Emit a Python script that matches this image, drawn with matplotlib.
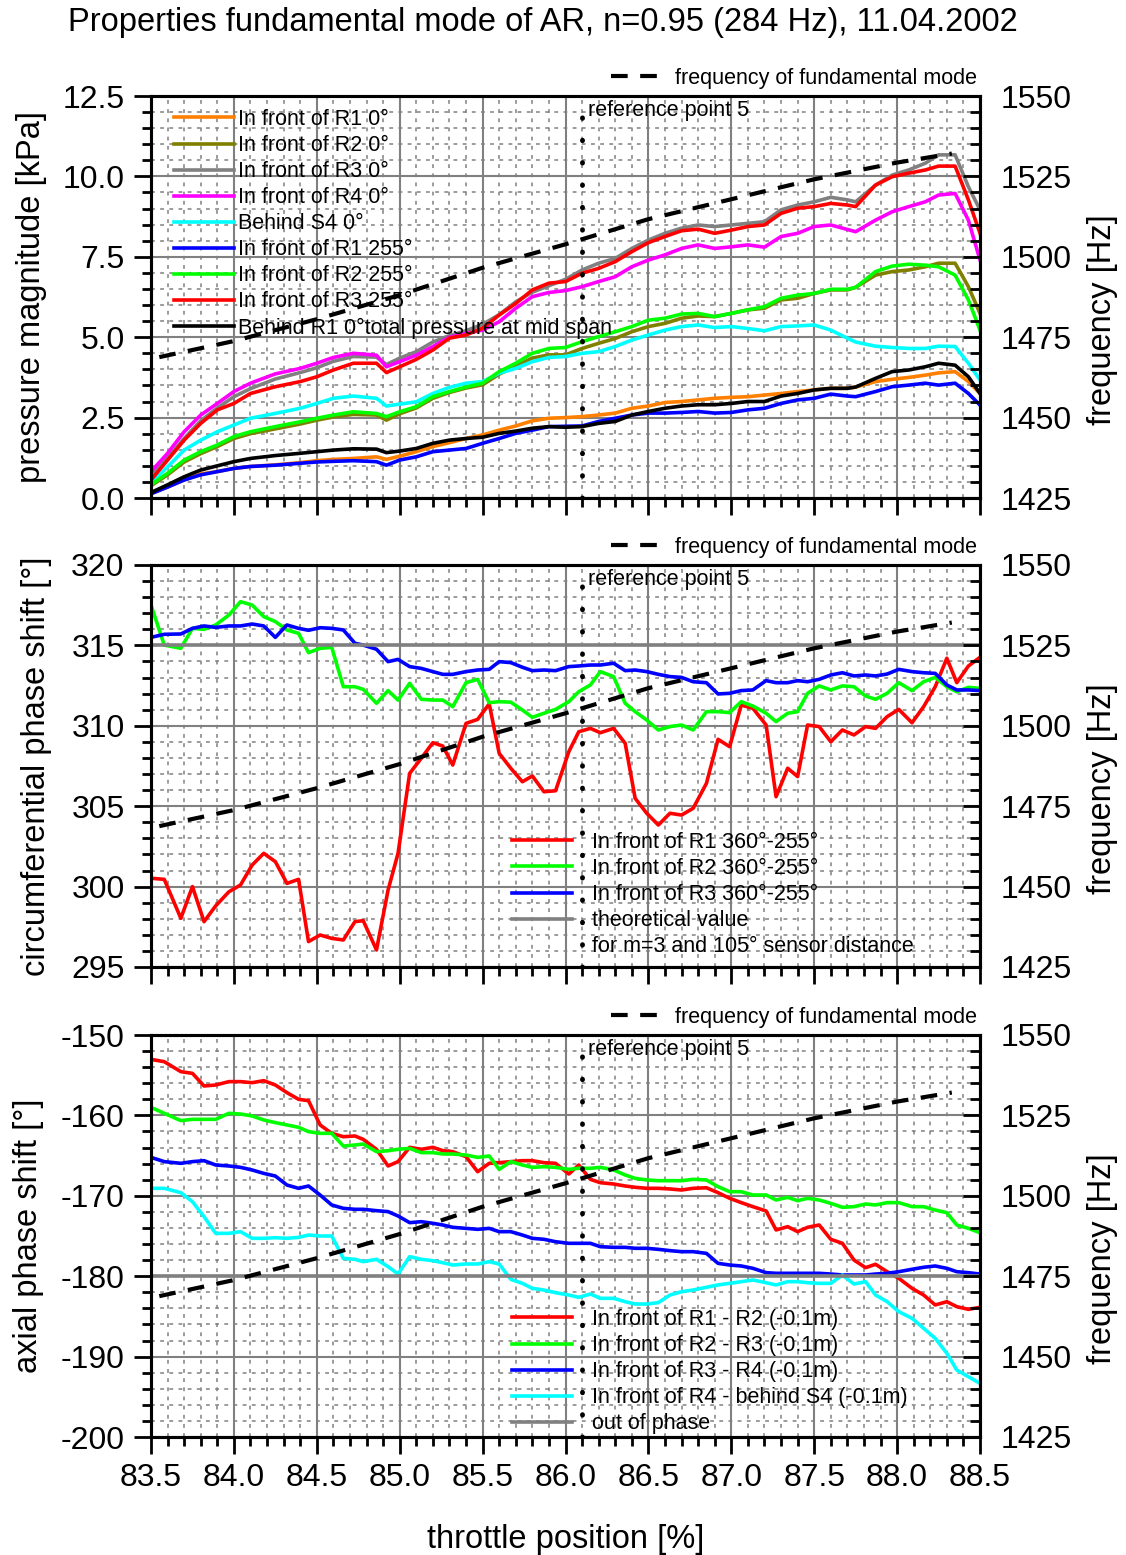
import matplotlib
matplotlib.use('Agg')
import matplotlib.pyplot as plt
from matplotlib.ticker import MultipleLocator, FormatStrFormatter

plt.rcParams['font.family'] = ['Liberation Sans', 'DejaVu Sans']
plt.rcParams['axes.unicode_minus'] = False

# ---- data ----
ref_x = 86.1

freq_x = [83.55, 84.0, 84.5, 85.0, 85.5, 86.0, 86.5, 87.0, 87.5, 88.0, 88.33]
freq_hz = [1468.8, 1473.8, 1480.6, 1488.1, 1496.6, 1503.9, 1511.7, 1517.9, 1524.1, 1529.3, 1532.1]

# pressure magnitude [kPa]
x_top = [83.5, 83.6, 83.7, 83.8, 83.9, 84.0, 84.1, 84.25, 84.4, 84.5, 84.6, 84.72, 84.86, 84.92,
         85.0, 85.1, 85.2, 85.3, 85.4, 85.5, 85.6, 85.7, 85.8, 85.9, 86.0, 86.1, 86.2, 86.3, 86.4,
         86.5, 86.6, 86.7, 86.8, 86.9, 87.0, 87.1, 87.2, 87.3, 87.4, 87.5, 87.6, 87.7, 87.75, 87.87,
         87.97, 88.07, 88.17, 88.25, 88.35, 88.43, 88.5]
p_r1_0 = [0.15, 0.34, 0.56, 0.75, 0.82, 0.92, 0.98, 1.03, 1.10, 1.16, 1.20, 1.23, 1.28, 1.20,
          1.30, 1.44, 1.60, 1.72, 1.85, 1.96, 2.11, 2.24, 2.40, 2.48, 2.50, 2.53, 2.58, 2.64, 2.79,
          2.86, 2.97, 3.00, 3.05, 3.10, 3.13, 3.15, 3.20, 3.25, 3.31, 3.36, 3.41, 3.41, 3.45, 3.62,
          3.69, 3.75, 3.82, 3.89, 3.93, 3.62, 3.25]
p_r2_0 = [0.38, 0.72, 1.12, 1.38, 1.60, 1.85, 2.00, 2.15, 2.30, 2.42, 2.52, 2.60, 2.58, 2.42,
          2.62, 2.80, 3.10, 3.28, 3.42, 3.52, 3.85, 4.10, 4.35, 4.45, 4.45, 4.65, 4.81, 4.96, 5.17,
          5.33, 5.43, 5.59, 5.66, 5.64, 5.74, 5.85, 5.90, 6.16, 6.21, 6.36, 6.47, 6.47, 6.55, 6.93,
          7.04, 7.09, 7.19, 7.30, 7.30, 6.57, 5.74]
p_r3_0 = [0.70, 1.25, 1.85, 2.40, 2.80, 3.15, 3.40, 3.70, 3.90, 4.05, 4.25, 4.40, 4.38, 4.15,
          4.35, 4.55, 4.85, 5.05, 5.20, 5.40, 5.70, 6.10, 6.40, 6.60, 6.80, 7.09, 7.30, 7.45, 7.76,
          8.02, 8.23, 8.39, 8.49, 8.44, 8.49, 8.54, 8.59, 8.96, 9.11, 9.21, 9.35, 9.27, 9.21, 9.73,
          10.04, 10.20, 10.41, 10.67, 10.67, 9.68, 8.96]
p_r4_0 = [0.82, 1.39, 2.06, 2.58, 2.94, 3.31, 3.57, 3.86, 4.03, 4.19, 4.37, 4.50, 4.44, 4.08,
          4.24, 4.44, 4.71, 5.00, 5.12, 5.22, 5.48, 5.90, 6.26, 6.39, 6.45, 6.57, 6.73, 6.88, 7.19,
          7.40, 7.56, 7.76, 7.87, 7.76, 7.81, 7.87, 7.80, 8.13, 8.23, 8.44, 8.49, 8.35, 8.28, 8.64,
          8.90, 9.06, 9.21, 9.42, 9.47, 8.64, 7.40]
p_s4_0 = [0.46, 0.97, 1.49, 1.80, 2.06, 2.27, 2.48, 2.63, 2.79, 2.94, 3.10, 3.17, 3.10, 2.86,
          2.92, 2.99, 3.25, 3.44, 3.57, 3.62, 3.88, 4.03, 4.24, 4.37, 4.40, 4.50, 4.55, 4.71, 4.91,
          5.07, 5.22, 5.33, 5.38, 5.30, 5.33, 5.27, 5.20, 5.33, 5.35, 5.38, 5.22, 4.97, 4.85, 4.72,
          4.68, 4.65, 4.65, 4.72, 4.71, 4.19, 3.67]
p_r1_255 = [0.13, 0.34, 0.56, 0.72, 0.82, 0.92, 0.98, 1.02, 1.08, 1.12, 1.14, 1.16, 1.13, 1.02,
            1.18, 1.28, 1.44, 1.49, 1.54, 1.70, 1.85, 2.01, 2.11, 2.22, 2.23, 2.24, 2.38, 2.48, 2.58,
            2.64, 2.64, 2.66, 2.69, 2.64, 2.66, 2.74, 2.79, 2.94, 3.05, 3.10, 3.23, 3.17, 3.15, 3.31,
            3.46, 3.51, 3.57, 3.51, 3.57, 3.25, 2.89]
p_r2_255 = [0.41, 0.77, 1.18, 1.44, 1.65, 1.91, 2.06, 2.22, 2.37, 2.48, 2.58, 2.68, 2.63, 2.53,
            2.68, 2.84, 3.15, 3.31, 3.45, 3.57, 3.93, 4.19, 4.50, 4.65, 4.68, 4.86, 5.02, 5.17, 5.33,
            5.53, 5.59, 5.72, 5.74, 5.64, 5.74, 5.85, 5.95, 6.21, 6.31, 6.36, 6.49, 6.49, 6.55, 7.04,
            7.21, 7.27, 7.24, 7.19, 6.93, 6.16, 5.22]
p_r3_255 = [0.56, 1.18, 1.80, 2.32, 2.74, 2.94, 3.25, 3.46, 3.62, 3.77, 3.98, 4.19, 4.19, 3.90,
            4.08, 4.31, 4.60, 4.97, 5.07, 5.28, 5.69, 6.05, 6.47, 6.68, 6.73, 6.99, 7.14, 7.35, 7.66,
            7.94, 8.13, 8.31, 8.36, 8.23, 8.33, 8.44, 8.49, 8.85, 9.01, 9.06, 9.16, 9.11, 9.06, 9.73,
            9.99, 10.10, 10.20, 10.32, 10.32, 9.27, 8.23]
p_behind_r1 = [0.17, 0.41, 0.66, 0.87, 1.00, 1.13, 1.23, 1.32, 1.39, 1.44, 1.49, 1.53, 1.52, 1.41,
               1.46, 1.54, 1.70, 1.80, 1.85, 1.89, 2.01, 2.08, 2.17, 2.22, 2.20, 2.22, 2.32, 2.38, 2.58,
               2.69, 2.79, 2.86, 2.90, 2.90, 2.94, 3.00, 3.00, 3.17, 3.25, 3.36, 3.41, 3.41, 3.45, 3.72,
               3.93, 3.98, 4.08, 4.19, 4.13, 3.77, 3.25]

# phase shifts [deg]
x_phase = [83.50, 83.58, 83.68, 83.75, 83.82, 83.89, 83.97, 84.04, 84.11, 84.18,
           84.25, 84.32, 84.39, 84.45, 84.52, 84.59, 84.66, 84.73, 84.78, 84.86, 84.93,
           84.99, 85.06, 85.13, 85.20, 85.26, 85.32, 85.40, 85.47, 85.54, 85.60,
           85.67, 85.74, 85.80, 85.87, 85.94, 86.02, 86.08, 86.15, 86.21,
           86.29, 86.36, 86.42, 86.49, 86.56, 86.63, 86.70, 86.77, 86.85, 86.92,
           86.99, 87.06, 87.13, 87.21, 87.27, 87.34, 87.40, 87.46, 87.53, 87.60,
           87.67, 87.74, 87.81, 87.87, 87.94, 88.01, 88.09, 88.16, 88.23, 88.30,
           88.36, 88.43, 88.50]
circ_r1 = [300.52, 300.45, 298.03, 300.0, 297.82, 298.8, 299.68, 300.10, 301.34, 302.07,
           301.55, 300.2, 300.45, 296.58, 296.99, 296.78, 296.68, 297.82, 297.88, 296.06, 299.79,
           302.07, 307.04, 307.98, 308.95, 308.74, 307.56, 310.15, 310.40, 311.36, 308.29,
           307.36, 306.52, 306.88, 305.90, 305.96, 308.39, 309.63, 309.84, 309.57,
           309.84, 308.91, 305.49, 304.56, 303.83, 304.56, 304.45, 304.87, 306.42, 309.16,
           308.70, 311.29, 311.09, 310.05, 305.59, 307.36, 306.84, 310.05, 309.95, 309.01,
           309.74, 309.43, 309.95, 309.84, 310.57, 311.02, 310.19, 311.19, 312.43, 314.20,
           312.68, 313.72, 314.26]
circ_r2 = [317.51, 315.02, 314.82, 316.06, 316.0, 316.27, 316.89, 317.72, 317.51, 316.79,
           316.48, 315.96, 315.75, 314.55, 314.82, 314.88, 312.43, 312.43, 312.27, 311.40, 312.19,
           311.60, 312.64, 311.65, 311.60, 311.60, 311.19, 312.68, 312.89, 311.44, 311.50,
           311.47, 310.98, 310.53, 310.78, 311.02, 311.50, 312.12, 312.54, 313.37,
           313.06, 311.40, 310.88, 310.36, 309.74, 309.95, 310.05, 309.74, 310.88, 310.88,
           310.82, 311.50, 311.23, 310.78, 310.26, 310.78, 310.88, 312.02, 312.48, 312.23,
           312.48, 312.43, 311.85, 311.65, 312.02, 312.68, 312.19, 312.74, 313.01, 312.43,
           312.12, 312.39, 312.33]
circ_r3 = [315.50, 315.69, 315.71, 316.06, 316.21, 316.12, 316.21, 316.21, 316.33, 316.21,
           315.50, 316.27, 316.06, 315.94, 316.10, 316.06, 315.96, 315.13, 315.02, 314.76, 313.99,
           314.13, 313.68, 313.57, 313.37, 313.20, 313.20, 313.37, 313.47, 313.51, 313.99,
           313.93, 313.64, 313.43, 313.47, 313.43, 313.68, 313.72, 313.78, 313.78,
           313.89, 313.43, 313.47, 313.37, 313.20, 313.06, 313.01, 312.74, 312.68, 311.98,
           312.02, 312.19, 312.23, 312.81, 312.68, 312.68, 312.81, 312.74, 312.89, 313.16,
           313.30, 313.10, 313.16, 313.10, 313.22, 313.51, 313.37, 313.30, 313.26, 312.54,
           312.23, 312.23, 312.19]
circ_theory = 315

ax_r1_r2 = [-153.03, -153.32, -154.56, -154.77, -156.34, -156.22, -155.80, -155.80, -155.93, -155.68,
            -156.22, -157.17, -158.0, -158.17, -161.19, -162.23, -162.65, -162.56, -162.98, -164.22, -166.29,
            -165.75, -163.97, -164.22, -163.97, -164.39, -164.51, -165.13, -167.0, -165.96, -165.88,
            -165.75, -165.63, -165.63, -165.88, -165.96, -167.29, -166.17, -167.95, -168.37,
            -168.53, -168.78, -168.94, -169.07, -169.07, -169.15, -169.28, -169.07, -169.0, -169.61,
            -170.31, -170.85, -171.35, -171.89, -174.25, -173.84, -174.46, -173.92, -173.63, -175.41,
            -175.91, -177.99, -178.94, -178.52, -179.44, -180.26, -181.51, -182.34, -183.58, -183.17,
            -183.79, -184.12, -183.87]
ax_r2_r3 = [-159.0, -159.74, -160.65, -160.49, -160.49, -160.49, -159.74, -159.83, -160.07, -160.57,
            -160.90, -161.19, -161.48, -162.02, -162.23, -162.23, -163.81, -163.68, -163.56, -164.51, -164.39,
            -164.22, -164.10, -164.63, -164.63, -164.80, -164.80, -164.93, -165.22, -165.05, -166.71,
            -165.75, -166.17, -166.46, -166.38, -166.46, -166.71, -166.58, -166.58, -166.46,
            -166.79, -167.41, -167.83, -168.03, -168.12, -168.12, -168.12, -167.95, -168.03, -168.86,
            -169.49, -169.49, -169.90, -169.90, -170.52, -170.19, -170.61, -170.31, -170.52, -170.94,
            -171.43, -171.35, -171.02, -171.14, -170.85, -170.85, -171.35, -171.35, -171.77, -172.10,
            -173.63, -174.05, -174.59]
ax_r3_r4 = [-165.22, -165.75, -165.96, -165.75, -165.63, -166.17, -166.29, -166.46, -166.79, -167.21,
            -167.54, -168.66, -169.07, -168.78, -169.90, -171.14, -171.56, -171.68, -171.68, -171.85, -171.97,
            -172.51, -173.34, -173.22, -173.42, -173.63, -173.92, -174.05, -174.17, -174.05, -174.46,
            -174.46, -174.88, -175.29, -175.41, -175.71, -175.91, -175.91, -175.91, -176.33,
            -176.41, -176.41, -176.53, -176.53, -176.66, -176.82, -176.95, -176.95, -177.16, -178.40,
            -178.61, -178.73, -179.02, -179.56, -179.64, -179.64, -179.64, -179.64, -179.64, -179.73,
            -179.85, -179.85, -179.85, -179.73, -179.64, -179.44, -179.14, -178.89, -178.73, -179.02,
            -179.44, -179.56, -179.73]
ax_r4_s4 = [-169.07, -169.07, -169.61, -170.73, -172.60, -174.67, -174.67, -174.46, -175.29, -175.29,
            -175.21, -175.29, -175.17, -174.88, -175.0, -175.0, -177.78, -177.90, -178.19, -177.90, -178.81,
            -179.73, -177.57, -177.90, -178.07, -178.32, -178.61, -178.48, -178.48, -178.19, -178.48,
            -180.39, -180.89, -181.51, -181.72, -182.05, -182.34, -182.63, -182.21, -182.75,
            -182.75, -183.17, -183.46, -183.46, -183.29, -182.34, -181.93, -181.72, -181.38, -181.09,
            -180.89, -180.68, -180.47, -180.81, -181.09, -180.68, -180.68, -180.81, -180.89, -180.89,
            -179.85, -180.97, -180.68, -182.34, -183.17, -184.41, -185.24, -186.48, -187.73, -189.59,
            -191.67, -192.50, -193.33]
axial_theory = -180

GRAY = '#808080'
LW = 2.6
FS_LABEL = 23.5
FS_TICK = 23
FS_SMALL = 15.5


def style_panel(ax, ax2, ylim, ymajor, yminor, fmt, ylabel, label_x, show_xlabels):
    ax.set_xlim(83.5, 88.5)
    ax.set_ylim(*ylim)
    ax.xaxis.set_major_locator(MultipleLocator(0.5))
    ax.xaxis.set_minor_locator(MultipleLocator(0.1))
    ax.xaxis.set_major_formatter(FormatStrFormatter('%.1f'))
    ax.yaxis.set_major_locator(MultipleLocator(ymajor))
    ax.yaxis.set_minor_locator(MultipleLocator(yminor))
    ax.yaxis.set_major_formatter(FormatStrFormatter(fmt))
    ax.set_axisbelow(True)
    ax.grid(which='major', color=GRAY, lw=1.5)
    ax.grid(which='minor', color=GRAY, lw=1.1, linestyle=(0, (2.5, 3.5)))
    ax.tick_params(which='major', direction='out', length=12, width=2, labelsize=FS_TICK, pad=7)
    ax.tick_params(which='minor', direction='out', length=6.5, width=2)
    ax.tick_params(labelbottom=show_xlabels)
    ax.set_ylabel(ylabel, fontsize=FS_LABEL)
    ax.yaxis.set_label_coords(label_x, 0.5)

    ax2.set_ylim(1425, 1550)
    ax2.yaxis.set_major_locator(MultipleLocator(25))
    ax2.yaxis.set_minor_locator(MultipleLocator(5))
    ax2.tick_params(which='major', direction='in', length=12, width=2, labelsize=FS_TICK, pad=15)
    ax2.tick_params(which='minor', direction='in', length=7, width=2)
    ax2.set_ylabel('frequency [Hz]', fontsize=FS_LABEL)
    ax2.yaxis.set_label_coords(1.129, 0.443)

    for a in (ax, ax2):
        for s in a.spines.values():
            s.set_linewidth(2.2)

    # reference point + frequency of the mode
    ax.axvline(ref_x, color='k', lw=3.5, linestyle=(0, (0.1, 4.5)), dash_capstyle='round')
    ax.text(ref_x + 0.035, 0.963, 'reference point 5', transform=ax.get_xaxis_transform(),
            fontsize=FS_SMALL, va='center', ha='left')
    ax2.plot(freq_x, freq_hz, color='k', lw=3, linestyle=(0, (4, 3)),
             label='frequency of fundamental mode')
    ax2.legend(loc='lower right', bbox_to_anchor=(0.996, 1.018), frameon=False, fontsize=FS_SMALL,
               borderpad=0, borderaxespad=0, handlelength=2.6, handletextpad=0.35)


fig = plt.figure(figsize=(11.26, 15.55), dpi=100)
L, W = 151 / 1126, 829 / 1126
H = 402 / 1555
ax_p = fig.add_axes([L, 1 - 498 / 1555, W, H])
ax_c = fig.add_axes([L, 1 - 967 / 1555, W, H])
ax_a = fig.add_axes([L, 1 - 1437 / 1555, W, H])

leg_kw = dict(loc='upper left', frameon=False, fontsize=FS_SMALL, borderpad=0, borderaxespad=0,
              handlelength=2.8, labelspacing=0.235)

# pressure panel
top_series = [
    (p_r1_0, '#FF8000', 'In front of R1 0°'),
    (p_r2_0, '#808000', 'In front of R2 0°'),
    (p_r3_0, GRAY, 'In front of R3 0°'),
    (p_r4_0, '#FF00FF', 'In front of R4 0°'),
    (p_s4_0, '#00FFFF', 'Behind S4 0°'),
    (p_r1_255, '#0000FF', 'In front of R1 255°'),
    (p_r2_255, '#00FF00', 'In front of R2 255°'),
    (p_r3_255, '#FF0000', 'In front of R3 255°'),
    (p_behind_r1, '#000000', 'Behind R1 0°total pressure at mid span'),
]
for vals, col, lab in top_series:
    ax_p.plot(x_top, vals, color=col, lw=LW, label=lab)
ax_p.legend(bbox_to_anchor=(0.028, 0.9676), handletextpad=0.14, **leg_kw)
ax_p2 = ax_p.twinx()
style_panel(ax_p, ax_p2, (0, 12.5), 2.5, 0.5, '%.1f', 'pressure magnitude [kPa]', -0.125, False)

# circumferential phase panel
ax_c.plot(x_phase, circ_r1, color='#FF0000', lw=LW, label='In front of R1 360°-255°')
ax_c.plot(x_phase, circ_r2, color='#00FF00', lw=LW, label='In front of R2 360°-255°')
ax_c.plot(x_phase, circ_r3, color='#0000FF', lw=LW, label='In front of R3 360°-255°')
ax_c.plot([83.5, 88.5], [circ_theory, circ_theory], color=GRAY, lw=LW, label='theoretical value')
ax_c.plot([], [], color='none', label='for m=3 and 105° sensor distance')
ax_c.legend(bbox_to_anchor=(0.4355, 0.336), handletextpad=0.93, **leg_kw)
ax_c2 = ax_c.twinx()
style_panel(ax_c, ax_c2, (295, 320), 5, 1, '%d', 'circumferential phase shift [°]', -0.119, False)

# axial phase panel
ax_a.plot(x_phase, ax_r1_r2, color='#FF0000', lw=LW, label='In front of R1 - R2 (-0.1m)')
ax_a.plot(x_phase, ax_r2_r3, color='#00FF00', lw=LW, label='In front of R2 - R3 (-0.1m)')
ax_a.plot(x_phase, ax_r3_r4, color='#0000FF', lw=LW, label='In front of R3 - R4 (-0.1m)')
ax_a.plot(x_phase, ax_r4_s4, color='#00FFFF', lw=LW, label='In front of R4 - behind S4 (-0.1m)')
ax_a.plot([83.5, 88.5], [axial_theory, axial_theory], color=GRAY, lw=LW, label='out of phase')
ax_a.legend(bbox_to_anchor=(0.4355, 0.3184), handletextpad=0.93, **leg_kw)
ax_a2 = ax_a.twinx()
style_panel(ax_a, ax_a2, (-200, -150), 10, 2, '%d', 'axial phase shift [°]', -0.129, True)
ax_a.set_xlabel('throttle position [%]', fontsize=FS_LABEL, labelpad=22)

fig.suptitle('Properties fundamental mode of AR, n=0.95 (284 Hz), 11.04.2002',
             x=543 / 1126, y=1 - 22 / 1555, va='center', fontsize=FS_LABEL)

fig.savefig('out.png', dpi=100)
